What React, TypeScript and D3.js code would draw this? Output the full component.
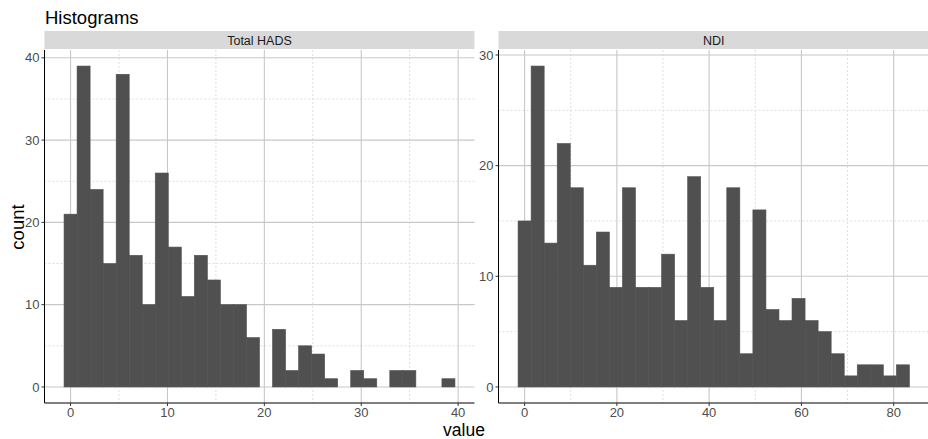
import { useEffect, useRef } from "react";
import * as d3 from "d3";

// counts per bin (30 bins each)
const hadsCounts = [21, 39, 24, 15, 38, 16, 10, 26, 17, 11, 16, 13, 10, 10, 6, 0, 7, 2, 5, 4, 1, 0, 2, 1, 0, 2, 2, 0, 0, 1];
const ndiCounts = [15, 29, 13, 22, 18, 11, 14, 9, 18, 9, 9, 12, 6, 19, 9, 6, 18, 3, 16, 7, 6, 8, 6, 5, 3, 1, 2, 2, 1, 2];
const hadsRange = [0, 39];
const ndiRange = [0, 82];
const hadsXTicks = [0, 10, 20, 30, 40];
const hadsXMinor = [5, 15, 25, 35];
const hadsYTicks = [0, 10, 20, 30, 40];
const hadsYMinor = [5, 15, 25, 35];
const ndiXTicks = [0, 20, 40, 60, 80];
const ndiXMinor = [10, 30, 50, 70];
const ndiYTicks = [0, 10, 20, 30];
const ndiYMinor = [5, 15, 25];

const FONT = "'Liberation Sans', Arial, sans-serif";

const panels = [
  { name: "Total HADS", counts: hadsCounts, range: hadsRange, xt: hadsXTicks, xm: hadsXMinor, yt: hadsYTicks, ym: hadsYMinor, left: 44.5, right: 474.5 },
  { name: "NDI", counts: ndiCounts, range: ndiRange, xt: ndiXTicks, xm: ndiXMinor, yt: ndiYTicks, ym: ndiYMinor, left: 498.5, right: 929 },
];

function App() {
  const ref = useRef<SVGSVGElement | null>(null);

  useEffect(() => {
    const svg = d3.select(ref.current);
    svg.selectAll("*").remove();

    const top = 50, bottom = 403, stripTop = 31;

    svg.append("text").attr("x", 45).attr("y", 24)
      .attr("font-family", FONT).attr("font-size", 18.5).attr("fill", "#000")
      .text("Histograms");

    panels.forEach(p => {
      const n = p.counts.length;
      const w = (p.range[1] - p.range[0]) / (n - 1);
      const lo = p.range[0] - w / 2, hi = p.range[1] + w / 2;
      const ex = (hi - lo) * 0.05;
      const x = d3.scaleLinear().domain([lo - ex, hi + ex]).range([p.left, p.right]);
      const ymax = d3.max(p.counts) as number;
      const y = d3.scaleLinear().domain([-ymax * 0.05, ymax * 1.05]).range([bottom, top]);

      const g = svg.append("g");

      // strip
      g.append("rect").attr("x", p.left).attr("y", stripTop)
        .attr("width", p.right - p.left).attr("height", top - stripTop - 1)
        .attr("fill", "#d9d9d9");
      g.append("text").attr("x", (p.left + p.right) / 2).attr("y", (stripTop + top) / 2)
        .attr("dy", "0.35em").attr("text-anchor", "middle")
        .attr("font-family", FONT).attr("font-size", 12.5).attr("fill", "#1a1a1a")
        .text(p.name);

      // minor grid
      g.selectAll(".xm").data(p.xm).join("line")
        .attr("x1", d => x(d)).attr("x2", d => x(d)).attr("y1", top).attr("y2", bottom)
        .attr("stroke", "#dedede").attr("stroke-dasharray", "2,2").attr("stroke-width", 1);
      g.selectAll(".ym").data(p.ym).join("line")
        .attr("x1", p.left).attr("x2", p.right).attr("y1", d => y(d)).attr("y2", d => y(d))
        .attr("stroke", "#dedede").attr("stroke-dasharray", "2,2").attr("stroke-width", 1);
      // major grid
      g.selectAll(".xg").data(p.xt).join("line")
        .attr("x1", d => x(d)).attr("x2", d => x(d)).attr("y1", top).attr("y2", bottom)
        .attr("stroke", "#c8c8c8").attr("stroke-width", 1.1);
      g.selectAll(".yg").data(p.yt).join("line")
        .attr("x1", p.left).attr("x2", p.right).attr("y1", d => y(d)).attr("y2", d => y(d))
        .attr("stroke", "#c8c8c8").attr("stroke-width", 1.1);

      // bars
      g.append("g").selectAll("rect").data(p.counts).join("rect")
        .attr("x", (_, i) => x(lo + i * w))
        .attr("width", (_, i) => x(lo + (i + 1) * w) - x(lo + i * w))
        .attr("y", d => y(d))
        .attr("height", d => y(0) - y(d))
        .attr("fill", "#505050")
        .attr("stroke", "#505050").attr("stroke-width", 0.6);

      // axis lines
      g.append("line").attr("x1", p.left).attr("x2", p.left).attr("y1", top).attr("y2", bottom)
        .attr("stroke", "#000").attr("stroke-width", 1);
      g.append("line").attr("x1", p.left).attr("x2", p.right).attr("y1", bottom).attr("y2", bottom)
        .attr("stroke", "#000").attr("stroke-width", 1);

      // ticks and labels
      g.selectAll(".xt").data(p.xt).join("line")
        .attr("x1", d => x(d)).attr("x2", d => x(d)).attr("y1", bottom).attr("y2", bottom + 3)
        .attr("stroke", "#333");
      g.selectAll(".xl").data(p.xt).join("text")
        .attr("x", d => x(d)).attr("y", bottom + 13.5).attr("text-anchor", "middle")
        .attr("font-family", FONT).attr("font-size", 13).attr("fill", "#4d4d4d")
        .text(d => d);
      g.selectAll(".yt").data(p.yt).join("line")
        .attr("x1", p.left - 3).attr("x2", p.left).attr("y1", d => y(d)).attr("y2", d => y(d))
        .attr("stroke", "#333");
      g.selectAll(".yl").data(p.yt).join("text")
        .attr("x", p.left - 5).attr("y", d => y(d)).attr("dy", "0.35em").attr("text-anchor", "end")
        .attr("font-family", FONT).attr("font-size", 13).attr("fill", "#4d4d4d")
        .text(d => d);
    });

    svg.append("text").attr("x", 464).attr("y", 435.5).attr("text-anchor", "middle")
      .attr("font-family", FONT).attr("font-size", 17.5).attr("fill", "#000")
      .text("value");
    svg.append("text").attr("transform", "translate(24,227) rotate(-90)").attr("text-anchor", "middle")
      .attr("font-family", FONT).attr("font-size", 18.5).attr("fill", "#000")
      .text("count");
  }, []);

  return (
    <svg ref={ref} width={928} height={439}
      style={{ position: "fixed", left: 0, top: 0, background: "#fff" }} />
  );
}

export default App;
